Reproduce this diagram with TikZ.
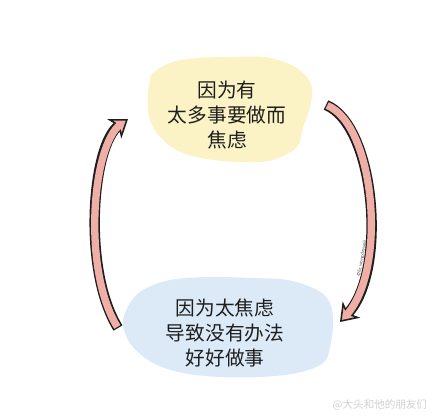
\documentclass[tikz,border=0pt]{standalone}
\usepackage{fontspec}
\newfontfamily\cjk{Noto Sans CJK SC}
\usepackage{xcolor}
\usetikzlibrary{arrows.meta, calc, positioning}
\definecolor{cloudyellow}{HTML}{FBF3C6}
\definecolor{cloudblue}{HTML}{DCEAF7}
\definecolor{arrowpink}{HTML}{F0AFA6}
\definecolor{inkblack}{HTML}{1E1E1E}
\tikzset{
  cloudtext/.style = {
    align      = center,
    inner sep  = 0pt,
    text       = inkblack,
    font       = \cjk\fontsize{14}{17.5}\selectfont
  },
  loopline/.style = {
    draw       = inkblack,
    line width = 7.4pt,
    -{Stealth[length = 12pt, width = 17pt, inset = 3.5pt, fill = arrowpink, line width = 1.1pt]}
  },
  loopfill/.style = {
    draw       = arrowpink,
    line width = 5.2pt,
    shorten >  = 6.5pt,
    shorten <  = 0.9pt
  }
}

\begin{document}
\begin{tikzpicture}[x=0.025cm, y=0.025cm]
\path[use as bounding box, fill=white] (0,0) rectangle (440,420);

% Top cloud
\fill[cloudyellow] plot[smooth cycle, tension=0.6] coordinates {
  (153,347) (170,357) (197,362) (230,363) (263,363) (287,357) (303,347)
  (312,333) (310,313) (303,293) (297,273) (273,260) (247,258) (213,260)
  (183,267) (163,280) (150,300) (148,323) (150,340)};
\node[cloudtext] (worry) at (227,305) {因为有\\太多事要做而\\焦虑};

% Bottom cloud
\fill[cloudblue] plot[smooth cycle, tension=0.6] coordinates {
  (123,100) (130,117) (143,130) (170,140) (210,143) (250,142) (287,140)
  (317,130) (330,117) (333,97) (330,73) (323,57) (297,47) (260,43)
  (220,43) (183,47) (153,57) (133,73) (125,87)};
\node[cloudtext] (stuck) at (225,87) {因为太焦虑\\导致没有办法\\好好做事};

% Arrow ends
\coordinate (lefttail)  at (118,92);
\coordinate (lefthead)  at (128,301);
\coordinate (righttail) at (326,315);
\coordinate (righthead) at (340,98);

% Left arrow, bottom to top
\draw[loopline] (lefttail) .. controls (82,150) and (92,275) .. (lefthead);
\draw[loopfill] (lefttail) .. controls (82,150) and (92,275) .. (lefthead);

% Right arrow, top to bottom
\draw[loopline] (righttail) .. controls (375,295) and (388,150) .. (righthead);
\draw[loopfill] (righttail) .. controls (375,295) and (388,150) .. (righthead);

% Signatures
\node[rotate=80, font=\sffamily\fontsize{3.5}{4}\selectfont, text=black!70] (credit) at (362,162) {@liz.wongdrawsit};
\node[anchor=east, font=\cjk\fontsize{7.5}{9}\selectfont, text=black!18] (weibo) at (432,15) {@大头和他的朋友们};

\end{tikzpicture}
\end{document}
